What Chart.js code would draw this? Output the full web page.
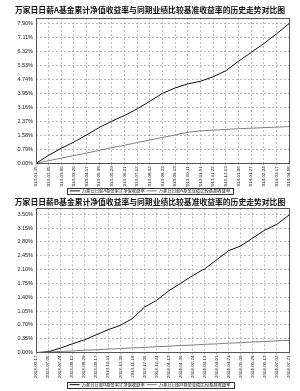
<!DOCTYPE html>
<html>
<head>
<meta charset="utf-8">
<script src="https://cdn.jsdelivr.net/npm/chart.js@4"></script>
<style>
  html, body { margin: 0; padding: 0; background: #fff; }
  .box { position: absolute; left: 0; width: 300px; }
</style>
</head>
<body>
<div class="box" style="top:0;height:195px"><canvas id="chartA"></canvas></div>
<div class="box" style="top:195px;height:196px"><canvas id="chartB"></canvas></div>
<script>
// A share
const labelsA = ['2013-01-15', '2013-02-05', '2013-03-05', '2013-03-26', '2013-04-17', '2013-05-08',
  '2013-05-29', '2013-06-21', '2013-07-12', '2013-08-02', '2013-08-23', '2013-09-13', '2013-10-11',
  '2013-11-01', '2013-11-22', '2013-12-13', '2014-01-06', '2014-01-27', '2014-02-24', '2014-03-17', '2014-04-08'];
const fundA = [0, 0.45, 0.85, 1.20, 1.60, 2.02, 2.38, 2.70, 3.07, 3.50, 3.95, 4.25, 4.48, 4.63, 4.88, 5.22, 5.75, 6.25, 6.75, 7.30, 7.88];
const benchA = [0, 0.15, 0.29, 0.44, 0.58, 0.73, 0.88, 1.02, 1.17, 1.31, 1.46, 1.60, 1.75, 1.83, 1.87, 1.91, 1.95, 1.98, 2.01, 2.04, 2.07];
const ticksA = [0, 0.79, 1.58, 2.37, 3.16, 3.95, 4.74, 5.53, 6.32, 7.11, 7.90];

// B share
const labelsB = ['2013-06-17', '2013-07-05', '2013-07-24', '2013-08-12', '2013-08-29', '2013-09-17',
  '2013-10-11', '2013-10-30', '2013-11-18', '2013-12-05', '2013-12-24', '2014-01-13', '2014-01-30',
  '2014-02-24', '2014-03-13', '2014-04-01', '2014-04-21', '2014-05-09', '2014-05-28', '2014-06-13',
  '2014-07-02', '2014-07-21'];
const fundB = [0, 0.02, 0.11, 0.22, 0.32, 0.45, 0.58, 0.69, 0.86, 1.15, 1.32, 1.56, 1.75, 1.95, 2.12, 2.35, 2.58, 2.70, 2.90, 3.10, 3.25, 3.48];
const benchB = [0, 0.01, 0.03, 0.04, 0.06, 0.07, 0.09, 0.10, 0.12, 0.13, 0.15, 0.16, 0.18, 0.19, 0.21, 0.22, 0.24, 0.25, 0.27, 0.28, 0.30, 0.31];
const ticksB = [0, 0.35, 0.70, 1.05, 1.40, 1.75, 2.10, 2.45, 2.80, 3.15, 3.50];

const cjk = 'Noto Sans CJK SC';

// frame around plot area and around legend
const framePlugin = {
  id: 'frame',
  afterDraw(chart) {
    const { ctx, chartArea: a } = chart;
    ctx.save();
    ctx.strokeStyle = '#555';
    ctx.lineWidth = 1;
    ctx.strokeRect(Math.round(a.left) + 0.5, Math.round(a.top) + 0.5, Math.round(a.right - a.left), Math.round(a.bottom - a.top));
    const hb = chart.legend.legendHitBoxes;
    if (hb && hb.length) {
      const l = Math.min(...hb.map(h => h.left)) - 3;
      const r = Math.max(...hb.map(h => h.left + h.width)) + 3;
      const t = Math.min(...hb.map(h => h.top)) - 1;
      const b = Math.max(...hb.map(h => h.top + h.height)) + 1;
      ctx.strokeStyle = '#333';
      ctx.strokeRect(Math.round(l) + 0.5, Math.round(t) + 0.5, Math.round(r - l), Math.round(b - t));
    }
    ctx.restore();
  }
};

function makeChart(id, cls, labels, fund, bench, yTicks, yMax, lay) {
  const toXY = arr => arr.map((v, i) => ({ x: i, y: v }));
  return new Chart(document.getElementById(id), {
    type: 'line',
    data: {
      datasets: [{
        label: '万家日日薪' + cls + '基金累计净值收益率',
        data: toXY(fund),
        borderColor: '#111',
        borderWidth: 1,
        pointRadius: 0,
        pointStyle: 'line'
      }, {
        label: '万家日日薪' + cls + '基金业绩比较基准收益率',
        data: toXY(bench),
        borderColor: '#808080',
        borderWidth: 1,
        pointRadius: 0,
        pointStyle: 'line'
      }]
    },
    options: {
      responsive: true,
      maintainAspectRatio: false,
      animation: false,
      layout: { padding: { left: 0, right: 0, top: 0, bottom: lay.bottom } },
      plugins: {
        title: {
          display: true,
          text: '万家日日薪' + cls + '基金累计净值收益率与同期业绩比较基准收益率的历史走势对比图',
          color: '#111',
          font: { family: cjk, size: 7.8, weight: 'bold' },
          padding: { top: lay.titleTop, bottom: lay.titleBottom }
        },
        legend: {
          position: 'bottom',
          labels: {
            usePointStyle: true,
            pointStyleWidth: 10,
            boxHeight: 4,
            padding: 2,
            color: '#111',
            font: { family: cjk, size: 4.3 }
          }
        },
        tooltip: { enabled: false }
      },
      scales: {
        x: {
          type: 'linear',
          min: 0,
          max: labels.length - 1,
          afterBuildTicks: s => { s.ticks = labels.map((_, i) => ({ value: i })); },
          afterFit: s => { s.height = lay.xHeight; },
          ticks: {
            autoSkip: false,
            maxRotation: 90,
            minRotation: 90,
            color: '#111',
            font: { family: 'Liberation Sans', size: 4.4 },
            padding: 1,
            callback: v => labels[v]
          },
          grid: { color: '#aaa', tickLength: 2, lineWidth: 0.8 },
          border: { dash: [2, 2], display: false }
        },
        y: {
          min: 0,
          max: yMax,
          afterBuildTicks: s => { s.ticks = yTicks.map(v => ({ value: v })); },
          afterFit: s => { s.width = 36; },
          ticks: {
            color: '#222',
            font: { family: 'Liberation Sans', size: 5.5 },
            padding: 3,
            callback: v => v.toFixed(2) + '%'
          },
          grid: { color: '#aaa', lineWidth: 0.8, drawTicks: false },
          border: { dash: [2, 2], display: false }
        },
        // empty right-hand axis, only reserves the margin so title and legend centre on the page
        yRight: {
          position: 'right',
          afterFit: s => { s.width = 11; },
          ticks: { display: false },
          grid: { display: false },
          border: { display: false }
        }
      }
    },
    plugins: [framePlugin]
  });
}

makeChart('chartA', 'A', labelsA, fundA, benchA, ticksA, 8.2,
  { titleTop: 5, titleBottom: 3.6, xHeight: 23.4, bottom: -8 });
makeChart('chartB', 'B', labelsB, fundB, benchB, ticksB, 3.65,
  { titleTop: 2, titleBottom: 2, xHeight: 27.9, bottom: -5.8 });
</script>
</body>
</html>
